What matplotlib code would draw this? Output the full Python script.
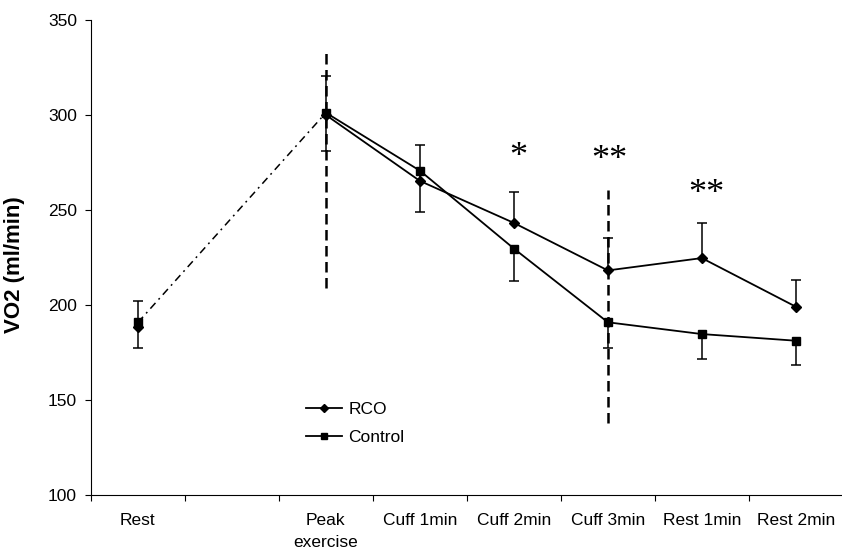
import numpy as np
import matplotlib
matplotlib.use('Agg')
import matplotlib.pyplot as plt

plt.rcParams['font.family'] = ['Liberation Sans', 'DejaVu Sans']

categories = ['Rest', '', 'Peak\nexercise', 'Cuff 1min', 'Cuff 2min',
              'Cuff 3min', 'Rest 1min', 'Rest 2min']
rco = [188.6, np.nan, 300.0, 265.3, 243.2, 218.2, 224.7, 199.1]
rco_err_up = [13.5, np.nan, 20.7, 19.0, 16.3, 17.2, 18.5, 14.1]
control = [190.8, np.nan, 301.2, 270.7, 229.7, 190.9, 184.7, 181.2]
control_err_down = [13.4, np.nan, 20.0, 21.6, 17.2, 13.7, 13.3, 12.8]
# significance marks: (category position, y value, text)
stars = [(4.05, 277.5, '*'), (5.02, 275.8, '**'), (6.05, 258.4, '**')]
# dashed vertical markers: (category index, y low, y high)
vlines = [(2, 209, 333.7), (5, 138, 260.5)]

x = np.arange(len(categories))
rco = np.array(rco)
control = np.array(control)
rco_top = rco + np.array(rco_err_up)
control_bot = control - np.array(control_err_down)

fig = plt.figure(figsize=(8.42, 5.59), dpi=100)
ax = fig.add_axes([0.108, 0.1145, 0.893, 0.8497])

# dash-dot link rest -> peak
ax.plot(x[[0, 2]], control[[0, 2]], color='black', lw=1.1,
        dashes=(5, 3, 1.2, 3))

for xi, lo, hi in vlines:
    ax.plot([x[xi], x[xi]], [lo, hi], color='black', lw=1.8, dashes=(4.2, 2.2))

# error bars: RCO upward only, control downward only (cap at far end only)
ax.vlines(x, rco, rco_top, color='black', lw=1.1)
ax.plot(x, rco_top, ls='none', marker='_', ms=7, mew=1.1, color='black')
ax.vlines(x, control_bot, control, color='black', lw=1.1)
ax.plot(x, control_bot, ls='none', marker='_', ms=7, mew=1.1, color='black')

ax.plot(x[2:], rco[2:], color='black', lw=1.3, marker='D', markersize=5.5,
        label='RCO')
ax.plot(x[2:], control[2:], color='black', lw=1.3, marker='s', markersize=6,
        label='Control')
ax.plot(x[0], rco[0], color='black', marker='D', markersize=5.5, ls='none')
ax.plot(x[0], control[0], color='black', marker='s', markersize=6, ls='none')

for xs, yv, s in stars:
    ax.text(xs, yv, s, family=['Liberation Serif', 'DejaVu Serif'],
            fontsize=26, ha='center', va='center')

ax.set_xlim(-0.5, len(categories) - 0.5)
ax.set_ylim(100, 350)
ax.set_yticks([100, 150, 200, 250, 300, 350])
ax.set_xticks(x)
ax.set_xticklabels(categories, fontsize=12.5, linespacing=1.55)
ax.set_xticks(np.arange(-0.5, len(categories) - 0.4, 1), minor=True)
ax.tick_params(axis='x', which='major', length=0, pad=13)
ax.tick_params(axis='x', which='minor', length=4, width=0.8)
ax.tick_params(axis='y', length=4, width=0.8, pad=6, labelsize=12.5)

ax.spines['top'].set_visible(False)
ax.spines['right'].set_visible(False)
ax.spines['left'].set_linewidth(0.8)
ax.spines['bottom'].set_linewidth(0.8)

ax.set_ylabel('VO2 (ml/min)', fontsize=16, fontweight='bold')
ax.yaxis.set_label_coords(-0.088, 0.486)

ax.legend(loc='center left', bbox_to_anchor=(0.363, 0.242),
          bbox_transform=fig.transFigure, frameon=False, fontsize=12.5,
          borderpad=0, borderaxespad=0, handlelength=2.1, handletextpad=0.35,
          labelspacing=0.75, markerscale=0.8)

fig.savefig('out.png', dpi=100)
